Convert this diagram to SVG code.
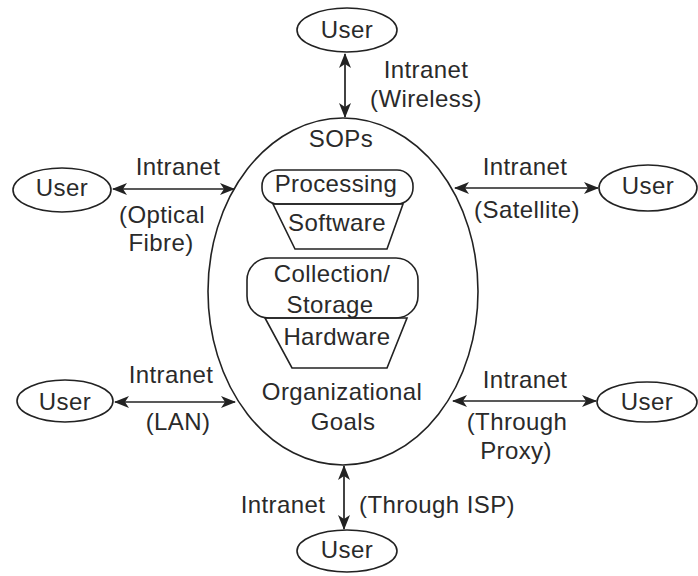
<svg xmlns="http://www.w3.org/2000/svg" width="698" height="576" viewBox="0 0 698 576">
<style>
.t{font-family:"Liberation Sans",Arial,sans-serif;font-size:24px;letter-spacing:0.4px;fill:#2a2a2a;text-anchor:middle}
.s{fill:none;stroke:#222;stroke-width:1.6}
.c{stroke:#222;stroke-width:1.7;fill:none;marker-start:url(#ah);marker-end:url(#ah)}
</style>
<defs>
<marker id="ah" viewBox="0 0 15 12" refX="14" refY="6" markerWidth="15" markerHeight="12" markerUnits="userSpaceOnUse" orient="auto-start-reverse">
<path d="M0,0 L15,6 L0,12 L4,6 Z" fill="#222"/>
</marker>
</defs>
<rect width="698" height="576" fill="#fff"/>
<g id="sops">
<ellipse class="s" cx="343" cy="291.5" rx="135" ry="173.5"/>
<text class="t" x="341" y="147">SOPs</text>
<text class="t" x="342" y="400">Organizational</text>
<text class="t" x="343" y="430">Goals</text>
</g>
<g id="processing">
<rect class="s" x="262" y="170" width="151" height="34" rx="16"/>
<text class="t" x="336" y="192">Processing</text>
</g>
<g id="software">
<path class="s" d="M273,204 L403,204 L387,249 L295,249 Z"/>
<text class="t" x="337" y="231">Software</text>
</g>
<g id="collection">
<rect class="s" x="247" y="258" width="171" height="60" rx="22"/>
<text class="t" x="332" y="282">Collection/</text>
<text class="t" x="330" y="313">Storage</text>
</g>
<g id="hardware">
<path class="s" d="M265,318 L407,318 L387,368 L292,368 Z"/>
<text class="t" x="337" y="345">Hardware</text>
</g>
<g id="user-top">
<ellipse class="s" cx="347" cy="30" rx="50" ry="22"/>
<text class="t" x="347" y="38">User</text>
</g>
<g id="user-left1">
<ellipse class="s" cx="62" cy="190" rx="49" ry="22"/>
<text class="t" x="62" y="196">User</text>
</g>
<g id="user-right1">
<ellipse class="s" cx="648" cy="188" rx="49" ry="23"/>
<text class="t" x="648" y="194">User</text>
</g>
<g id="user-left2">
<ellipse class="s" cx="65" cy="401" rx="48" ry="21"/>
<text class="t" x="65" y="410">User</text>
</g>
<g id="user-right2">
<ellipse class="s" cx="647" cy="402" rx="50" ry="20"/>
<text class="t" x="647" y="410">User</text>
</g>
<g id="user-bottom">
<ellipse class="s" cx="347" cy="551" rx="50" ry="21"/>
<text class="t" x="347" y="558">User</text>
</g>
<g id="connectors">
<line class="c" x1="345" y1="54" x2="345" y2="117"/>
<line class="c" x1="113" y1="189" x2="234" y2="189"/>
<line class="c" x1="455" y1="188" x2="598" y2="188"/>
<line class="c" x1="115" y1="402" x2="235" y2="402"/>
<line class="c" x1="453" y1="401" x2="596" y2="401"/>
<line class="c" x1="344" y1="466" x2="344" y2="529"/>
<text class="t" x="426" y="78">Intranet</text>
<text class="t" x="426" y="107">(Wireless)</text>
<text class="t" x="178" y="175">Intranet</text>
<text class="t" x="162" y="223">(Optical</text>
<text class="t" x="161" y="251">Fibre)</text>
<text class="t" x="525" y="175">Intranet</text>
<text class="t" x="527" y="218">(Satellite)</text>
<text class="t" x="171" y="383">Intranet</text>
<text class="t" x="178" y="430">(LAN)</text>
<text class="t" x="525" y="388">Intranet</text>
<text class="t" x="517" y="430">(Through</text>
<text class="t" x="516" y="459">Proxy)</text>
<text class="t" x="283" y="513">Intranet</text>
<text class="t" x="437" y="513">(Through ISP)</text>
</g>
</svg>
